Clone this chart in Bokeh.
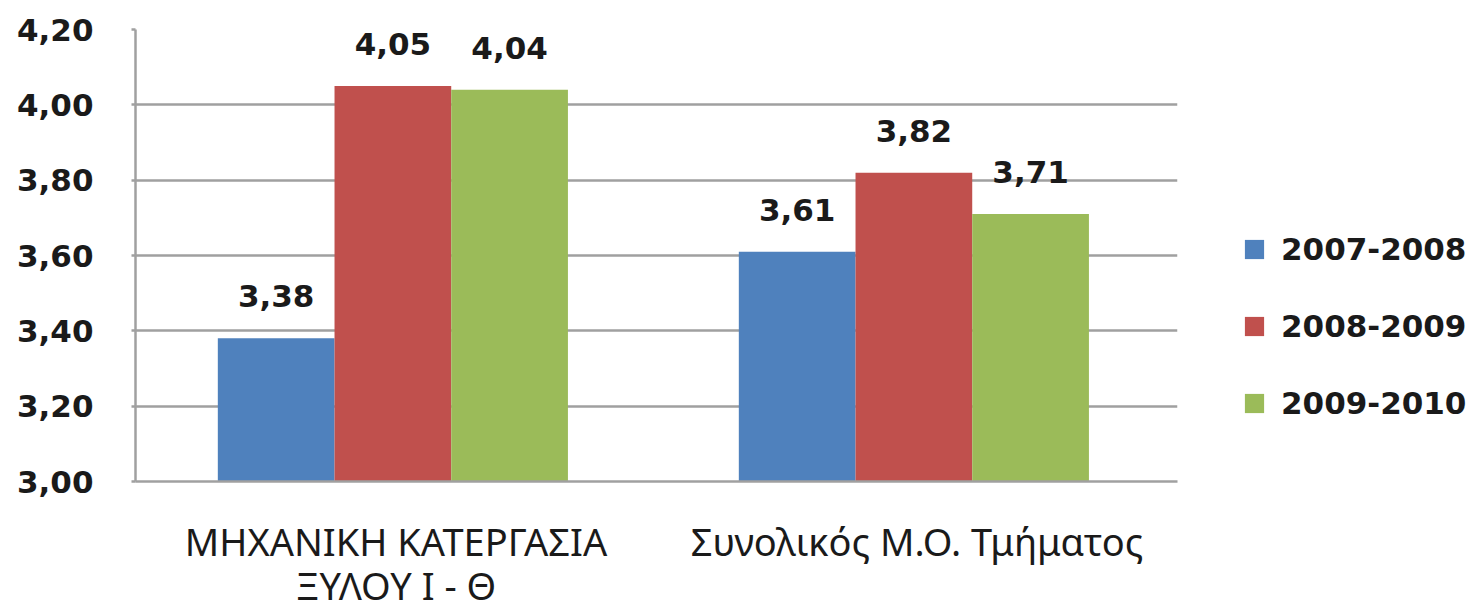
from bokeh.plotting import figure
from bokeh.models import (FactorRange, Range1d, FixedTicker, CustomJSTickFormatter,
                          ColumnDataSource, LabelSet, Legend, LegendItem)
from bokeh.core.properties import value
from bokeh.transform import dodge
from bokeh.embed import file_html
from bokeh.resources import INLINE

categories = ["ΜΗΧΑΝΙΚΗ ΚΑΤΕΡΓΑΣΙΑ\nΞΥΛΟΥ Ι - Θ", "Συνολικός Μ.Ο. Τμήματος"]
series_names = ["2007-2008", "2008-2009", "2009-2010"]
v_2007_2008 = [3.38, 3.61]
v_2008_2009 = [4.05, 3.82]
v_2009_2010 = [4.04, 3.71]
y_ticks = [3.0, 3.2, 3.4, 3.6, 3.8, 4.0, 4.2]

colors = ["#4F81BD", "#C0504D", "#9BBB59"]
series_values = [v_2007_2008, v_2008_2009, v_2009_2010]

p = figure(x_range=FactorRange(factors=categories), y_range=Range1d(3.0, 4.2),
           frame_width=1042, frame_height=452,
           min_border_left=135, min_border_right=290, min_border_top=29, min_border_bottom=121,
           output_backend="svg", toolbar_location=None)
p.outline_line_color = None
p.background_fill_color = "white"
p.border_fill_color = "white"

bw = 0.224
offsets = [-bw, 0.0, bw]
renderers = []
for name, vals, col, off in zip(series_names, series_values, colors, offsets):
    src = ColumnDataSource(dict(x=categories, top=vals,
                                lab=[f"{v:.2f}".replace(".", ",") for v in vals]))
    r = p.vbar(x=dodge("x", off - 0.006, range=p.x_range), top="top", bottom=3.0, width=bw,
               source=src, fill_color=col, line_color=None)
    renderers.append(r)
    ls = LabelSet(x=dodge("x", off - 0.006, range=p.x_range), y="top", text="lab", source=src,
                  text_align="center", text_baseline="alphabetic", y_offset=31,
                  text_font=value("DejaVu Sans"), text_font_style="bold",
                  text_font_size="31px", text_color="#1a1a1a")
    p.add_layout(ls)

# y axis
p.yaxis.ticker = FixedTicker(ticks=y_ticks)
p.yaxis.formatter = CustomJSTickFormatter(code="return tick.toFixed(2).replace('.', ',');")
p.yaxis.axis_line_color = "#A0A0A0"
p.yaxis.axis_line_width = 2.5
p.yaxis.major_tick_line_color = "#A0A0A0"
p.yaxis.major_tick_line_width = 2.5
p.yaxis.major_tick_out = 4
p.yaxis.major_tick_in = 0
p.yaxis.minor_tick_line_color = None
p.yaxis.major_label_standoff = 38
p.yaxis.major_label_text_font = "DejaVu Sans"
p.yaxis.major_label_text_font_style = "bold"
p.yaxis.major_label_text_font_size = "31px"
p.yaxis.major_label_text_color = "#1a1a1a"

# x axis
p.xaxis.axis_line_color = "#A0A0A0"
p.xaxis.axis_line_width = 2.5
p.xaxis.major_tick_line_color = None
p.xaxis.major_tick_out = 0
p.xaxis.major_tick_in = 0
p.xaxis.major_label_standoff = 33
p.xaxis.major_label_text_font = "Noto Sans"
p.xaxis.major_label_text_font_size = "38px"
p.xaxis.major_label_text_line_height = 0.85
p.xaxis.major_label_text_color = "#1a1a1a"

p.xgrid.grid_line_color = None
p.ygrid.grid_line_color = "#A0A0A0"
p.ygrid.grid_line_width = 2.5

legend = Legend(items=[LegendItem(label=n, renderers=[r]) for n, r in zip(series_names, renderers)],
                location=(65, 60), orientation="vertical",
                glyph_width=24, glyph_height=24, label_standoff=15,
                label_text_font="DejaVu Sans", label_text_font_style="bold",
                label_text_font_size="31px", label_text_color="#1a1a1a",
                spacing=41, padding=0, margin=0,
                border_line_color=None, background_fill_alpha=0)
p.add_layout(legend, "right")

open("out.html", "w").write(file_html(p, INLINE))
